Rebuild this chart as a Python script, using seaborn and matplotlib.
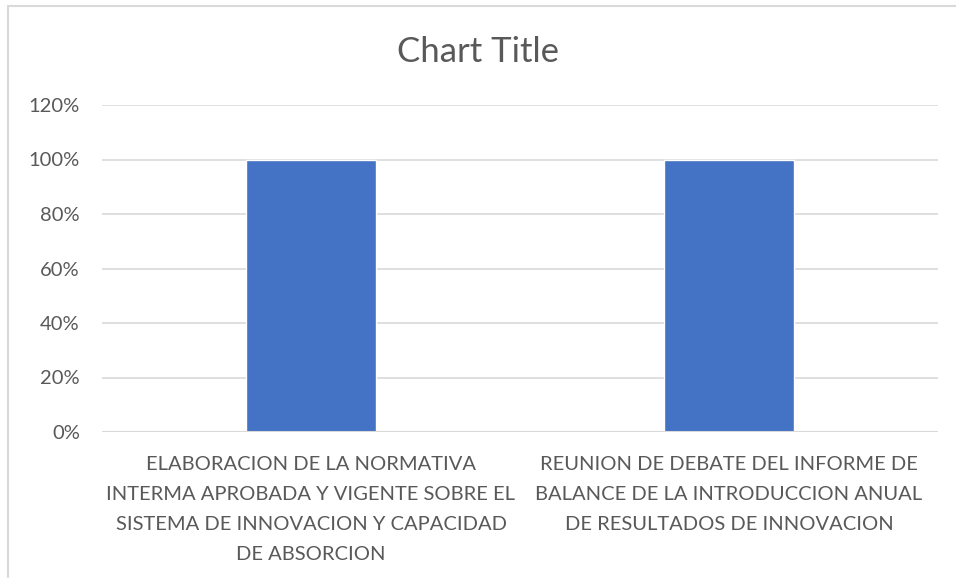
import matplotlib
matplotlib.use("Agg")
import matplotlib.pyplot as plt
import seaborn as sns
import pandas as pd
from matplotlib.patches import Rectangle
from matplotlib.ticker import PercentFormatter

sns.set_theme(style="white")
plt.rcParams['font.family'] = ['Lato', 'DejaVu Sans']

categories = [
    "ELABORACION DE LA NORMATIVA\nINTERMA APROBADA Y VIGENTE SOBRE EL\nSISTEMA DE INNOVACION Y CAPACIDAD\nDE ABSORCION",
    "REUNION DE DEBATE DEL INFORME DE\nBALANCE DE LA INTRODUCCION ANUAL\nDE RESULTADOS DE INNOVACION",
]
values = [1.0, 1.0]
yticks = [0, 0.2, 0.4, 0.6, 0.8, 1.0, 1.2]

text_col = "#595959"
grid_col = "#d9d9d9"

data = pd.DataFrame({"cat": categories, "val": values})

fig = plt.figure(figsize=(9.56, 5.78), dpi=100)
ax = fig.add_axes([102/956, 1-432/578, (938-102)/956, (432-105)/578])

sns.barplot(data=data, x="cat", y="val", color="#4472C4", saturation=1,
            width=0.313, ax=ax, zorder=3)

ax.set_ylim(0, 1.2)
ax.set_xlim(-0.5, 1.5)
ax.set_yticks(yticks)
ax.yaxis.set_major_formatter(PercentFormatter(1.0, decimals=0))
ax.grid(axis="y", color=grid_col, linewidth=1.2, zorder=0)
ax.grid(axis="x", visible=False)
for s in ax.spines.values():
    s.set_visible(False)
ax.axhline(0, color=grid_col, linewidth=1.5, zorder=4)
ax.set_xlabel("")
ax.set_ylabel("")
ax.set_xticks(range(len(categories)))
ax.set_xticklabels(categories, linespacing=1.94, ha="center")
ax.tick_params(axis="y", length=0, pad=16, labelsize=14.5, labelcolor=text_col)
ax.tick_params(axis="x", length=0, pad=17, labelsize=14.5, labelcolor=text_col)

fig.text(0.5, 1-52/578, "Chart Title", ha="center", va="center",
         fontsize=25, color=text_col)

# chart area border
fig.patches.append(Rectangle((8/956, -0.05), 1.05, 1-6/578+0.05,
                             transform=fig.transFigure, fill=False,
                             edgecolor=grid_col, linewidth=1.5))

fig.savefig("out.png", dpi=100)
